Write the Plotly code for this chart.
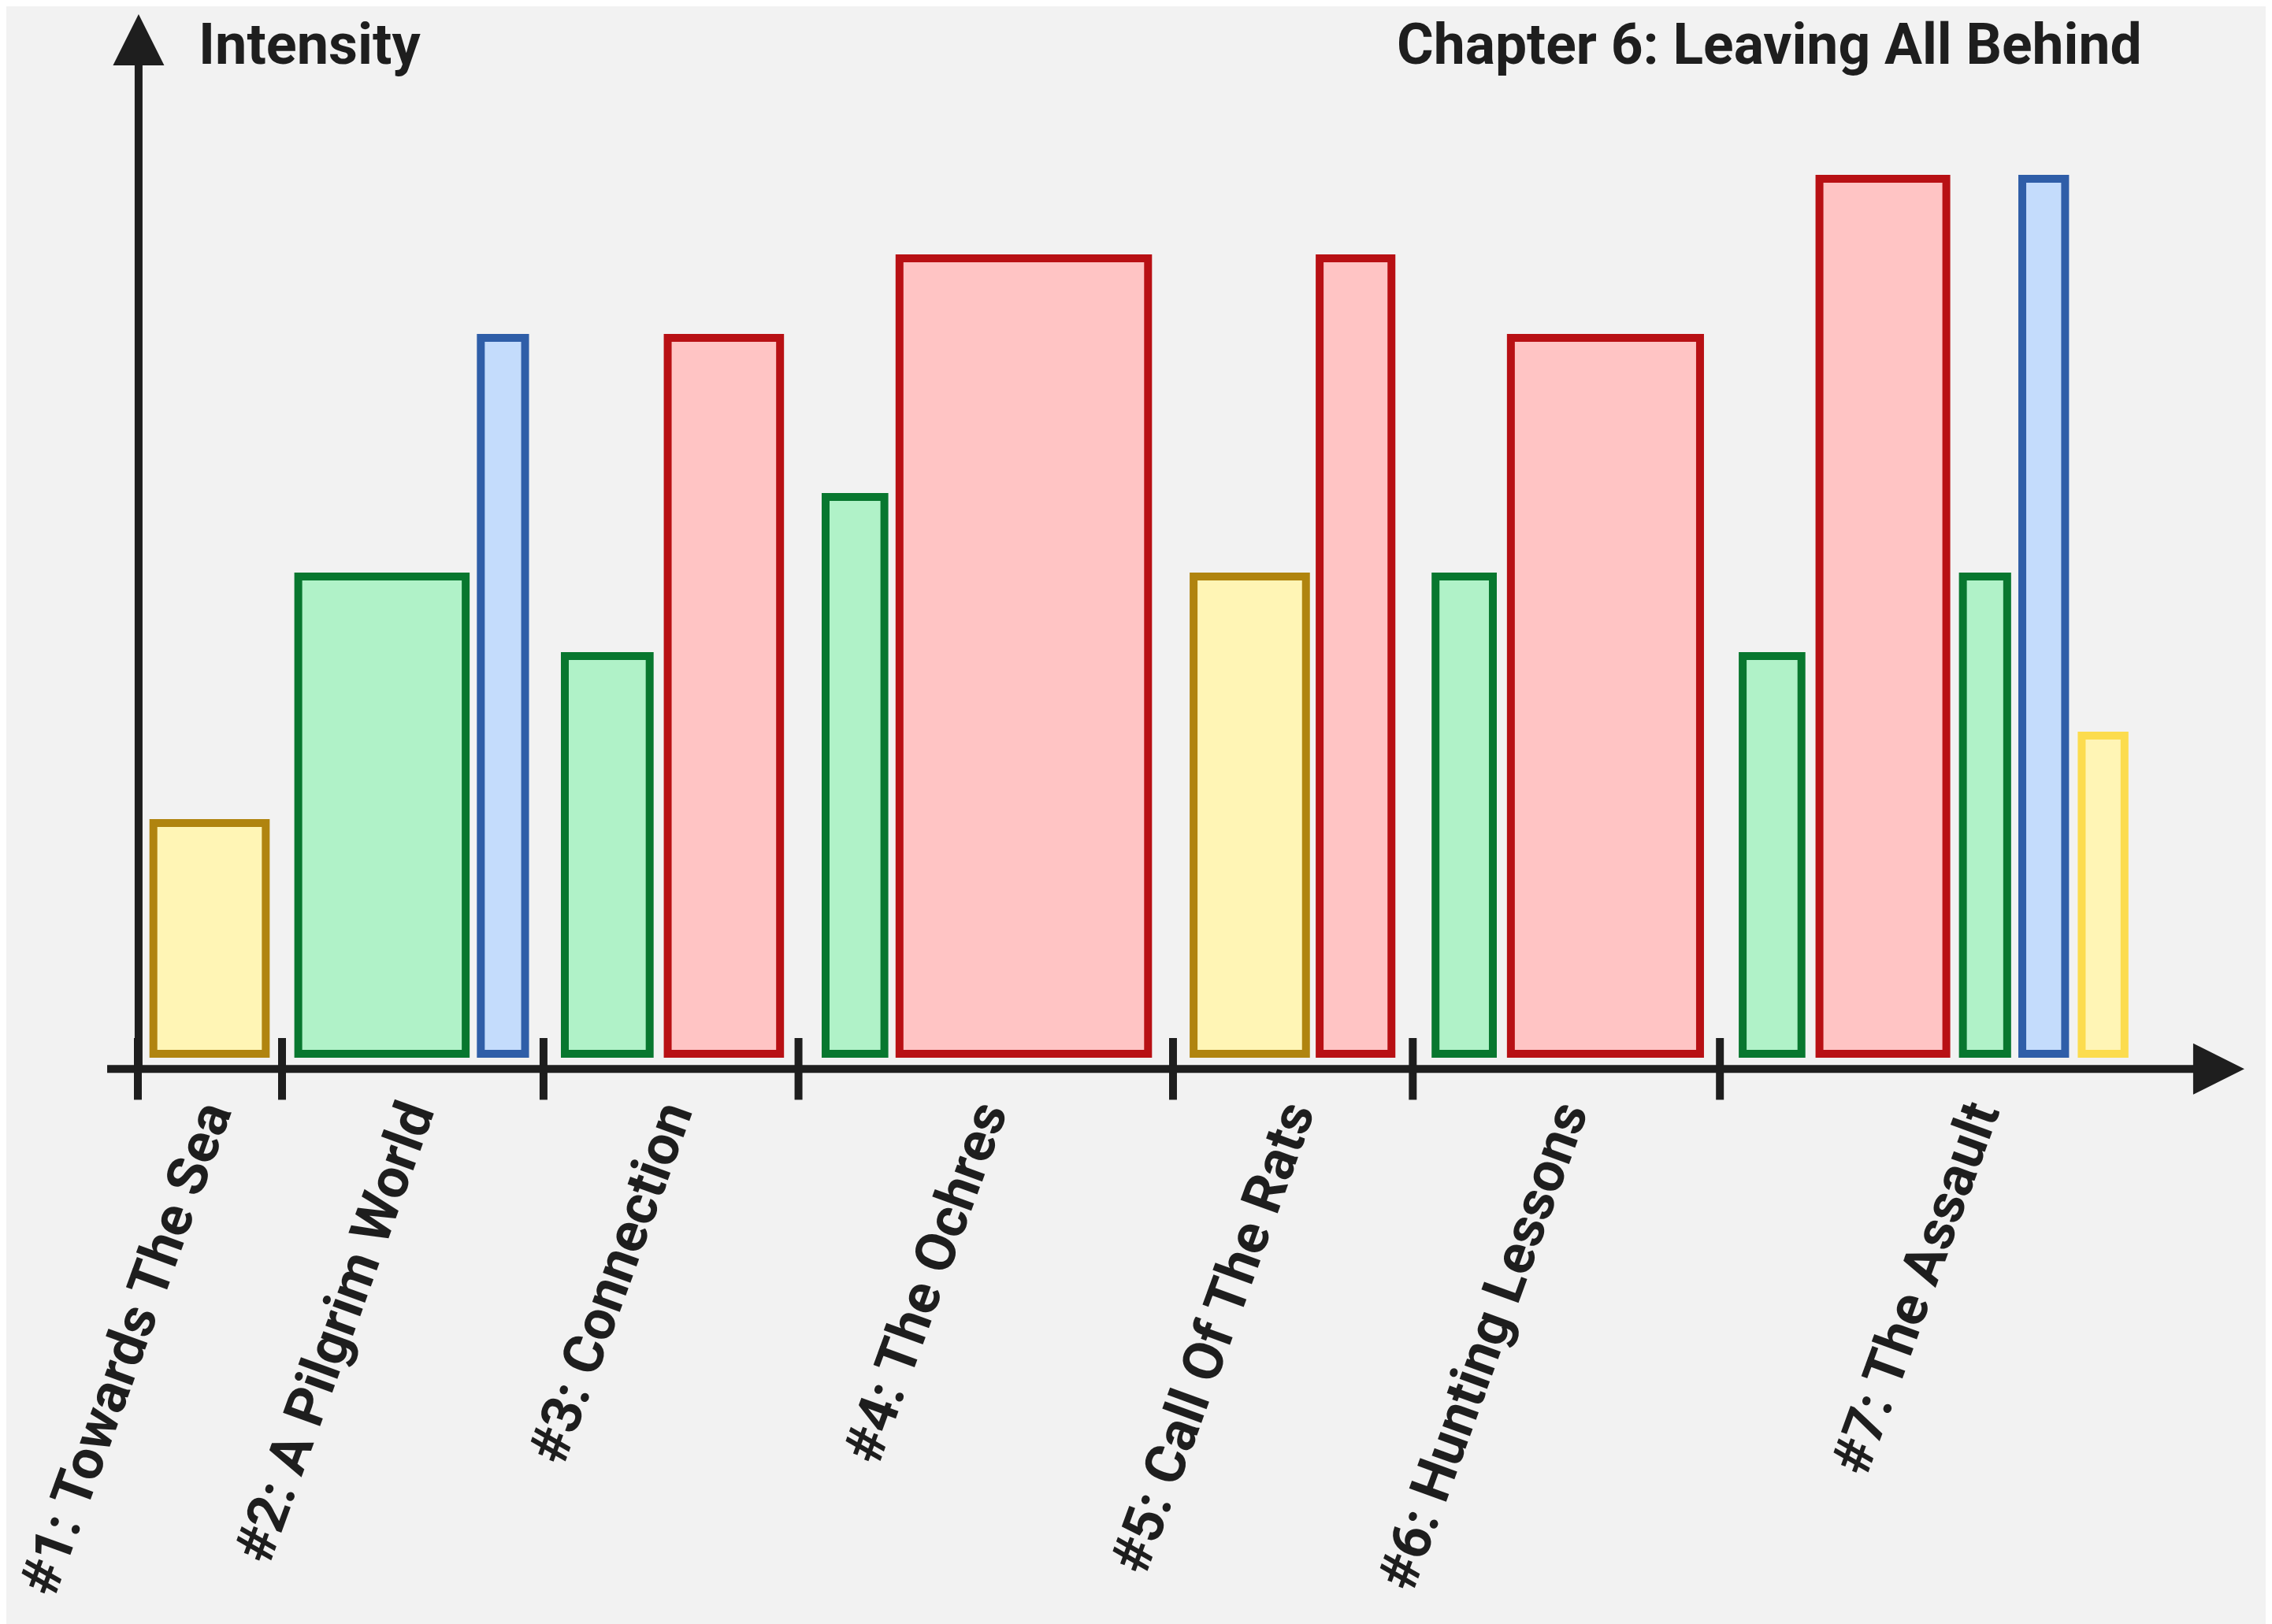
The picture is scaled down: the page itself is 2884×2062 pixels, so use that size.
import plotly.graph_objects as go

# --- episodes of chapter 6 (timeline units) ---
episode_labels = [
    "#1: Towards The Sea",
    "#2: A Pilgrim World",
    "#3: Connection",
    "#4: The Ochres",
    "#5: Call Of The Rats",
    "#6: Hunting Lessons",
    "#7: The Assault",
]
episode_bounds = [0.0, 9.95, 28.0, 45.6, 71.45, 88.0, 109.2, 144.8]

# --- scenes: start / end on the timeline, intensity, kind ---
scene_start = [0.8, 10.8, 23.4, 29.2, 36.3, 47.2, 52.3, 72.6, 81.3, 89.3, 94.5,
               110.5, 115.8, 125.7, 129.8, 133.9]
scene_end = [9.1, 22.9, 27.0, 35.6, 44.6, 51.8, 70.0, 80.9, 86.8, 93.8, 108.1,
             115.1, 125.1, 129.3, 133.3, 137.4]
scene_intensity = [2.9, 6, 9, 5, 9, 7, 10, 6, 10, 6, 9, 5, 11, 6, 11, 4]
scene_kind = ["calm", "growth", "insight", "growth", "danger", "growth", "danger",
              "calm", "danger", "growth", "danger", "growth", "danger", "growth",
              "insight", "hope"]

# --- styles ---
kind_fill = {"calm": "#fff5b5", "growth": "#b0f2c8", "insight": "#c4dcfc",
             "danger": "#ffc4c4", "hope": "#fff5b5"}
kind_line = {"calm": "#b0840f", "growth": "#08772f", "insight": "#2f5ea8",
             "danger": "#b81014", "hope": "#fcdc4e"}
ink = "#1e1e1e"
bg = "#f2f2f2"
font_family = "Roboto, Arial, sans-serif"

W, H = 2884, 2062
off = 8                     # page body margin
plot_bottom = 1354          # px from top where the plot area ends
px_per_x = 18.39            # px per timeline unit
px_per_y = 101.0            # px per intensity unit
x0_px, y0_px = 175 - off, 1338 - off   # pixel of timeline 0 / intensity 0
border = 10

x_range = [-x0_px / px_per_x, (W - x0_px) / px_per_x]
y_range = [-(plot_bottom - y0_px) / px_per_y, y0_px / px_per_y]
inset = border / px_per_x

centers = [(s + e) / 2 for s, e in zip(scene_start, scene_end)]
widths = [(e - s) - inset for s, e in zip(scene_start, scene_end)]
label_shift = 5 / px_per_x
label_pos = [(a + b) / 2 - label_shift
             for a, b in zip(episode_bounds[:-1], episode_bounds[1:])]
axis_y = -0.19

fig = go.Figure()

fig.add_trace(go.Bar(
    x=centers,
    y=scene_intensity,
    width=widths,
    marker=dict(
        color=[kind_fill[k] for k in scene_kind],
        line=dict(color=[kind_line[k] for k in scene_kind], width=border),
    ),
    hoverinfo="skip",
))

# tick marks at episode boundaries
fig.add_trace(go.Scatter(
    x=episode_bounds[:-1],
    y=[axis_y] * (len(episode_bounds) - 1),
    mode="markers",
    cliponaxis=False,
    marker=dict(symbol="line-ns", size=56, line=dict(color=ink, width=10)),
    hoverinfo="skip",
))

# axes with arrow heads
fig.add_annotation(x=145.4, y=axis_y, ax=-2.2, ay=axis_y,
                   xref="x", yref="y", axref="x", ayref="y", text="",
                   showarrow=True, arrowhead=2, arrowsize=1.3, arrowwidth=10,
                   arrowcolor=ink)
fig.add_annotation(x=0.05, y=13.07, ax=0.05, ay=-0.23,
                   xref="x", yref="y", axref="x", ayref="y", text="",
                   showarrow=True, arrowhead=2, arrowsize=1.3, arrowwidth=10,
                   arrowcolor=ink)

text_y = 1 - (56 - off) / plot_bottom
fig.add_annotation(text="Intensity", x=(250 - off) / W, y=text_y,
                   xref="paper", yref="paper", xanchor="left", yanchor="middle",
                   showarrow=False,
                   font=dict(family=font_family, size=72, color=ink, weight="bold"))
fig.add_annotation(text="Chapter 6: Leaving All Behind", x=(2721 - off) / W, y=text_y,
                   xref="paper", yref="paper", xanchor="right", yanchor="middle",
                   showarrow=False,
                   font=dict(family=font_family, size=71.4, color=ink, weight="bold"))

fig.update_layout(
    width=W, height=H,
    margin=dict(l=0, r=0, t=0, b=H - plot_bottom),
    paper_bgcolor=bg, plot_bgcolor=bg,
    showlegend=False,
    xaxis=dict(range=x_range, showgrid=False, zeroline=False, showline=False,
               tickmode="array", tickvals=label_pos, ticktext=episode_labels,
               tickangle=-70, ticks="", automargin=False, fixedrange=True,
               ticklabeloverflow="allow",
               tickfont=dict(family=font_family, size=70.5, color=ink, weight="bold")),
    yaxis=dict(range=y_range, visible=False, fixedrange=True),
)

fig.write_html("out.html")
